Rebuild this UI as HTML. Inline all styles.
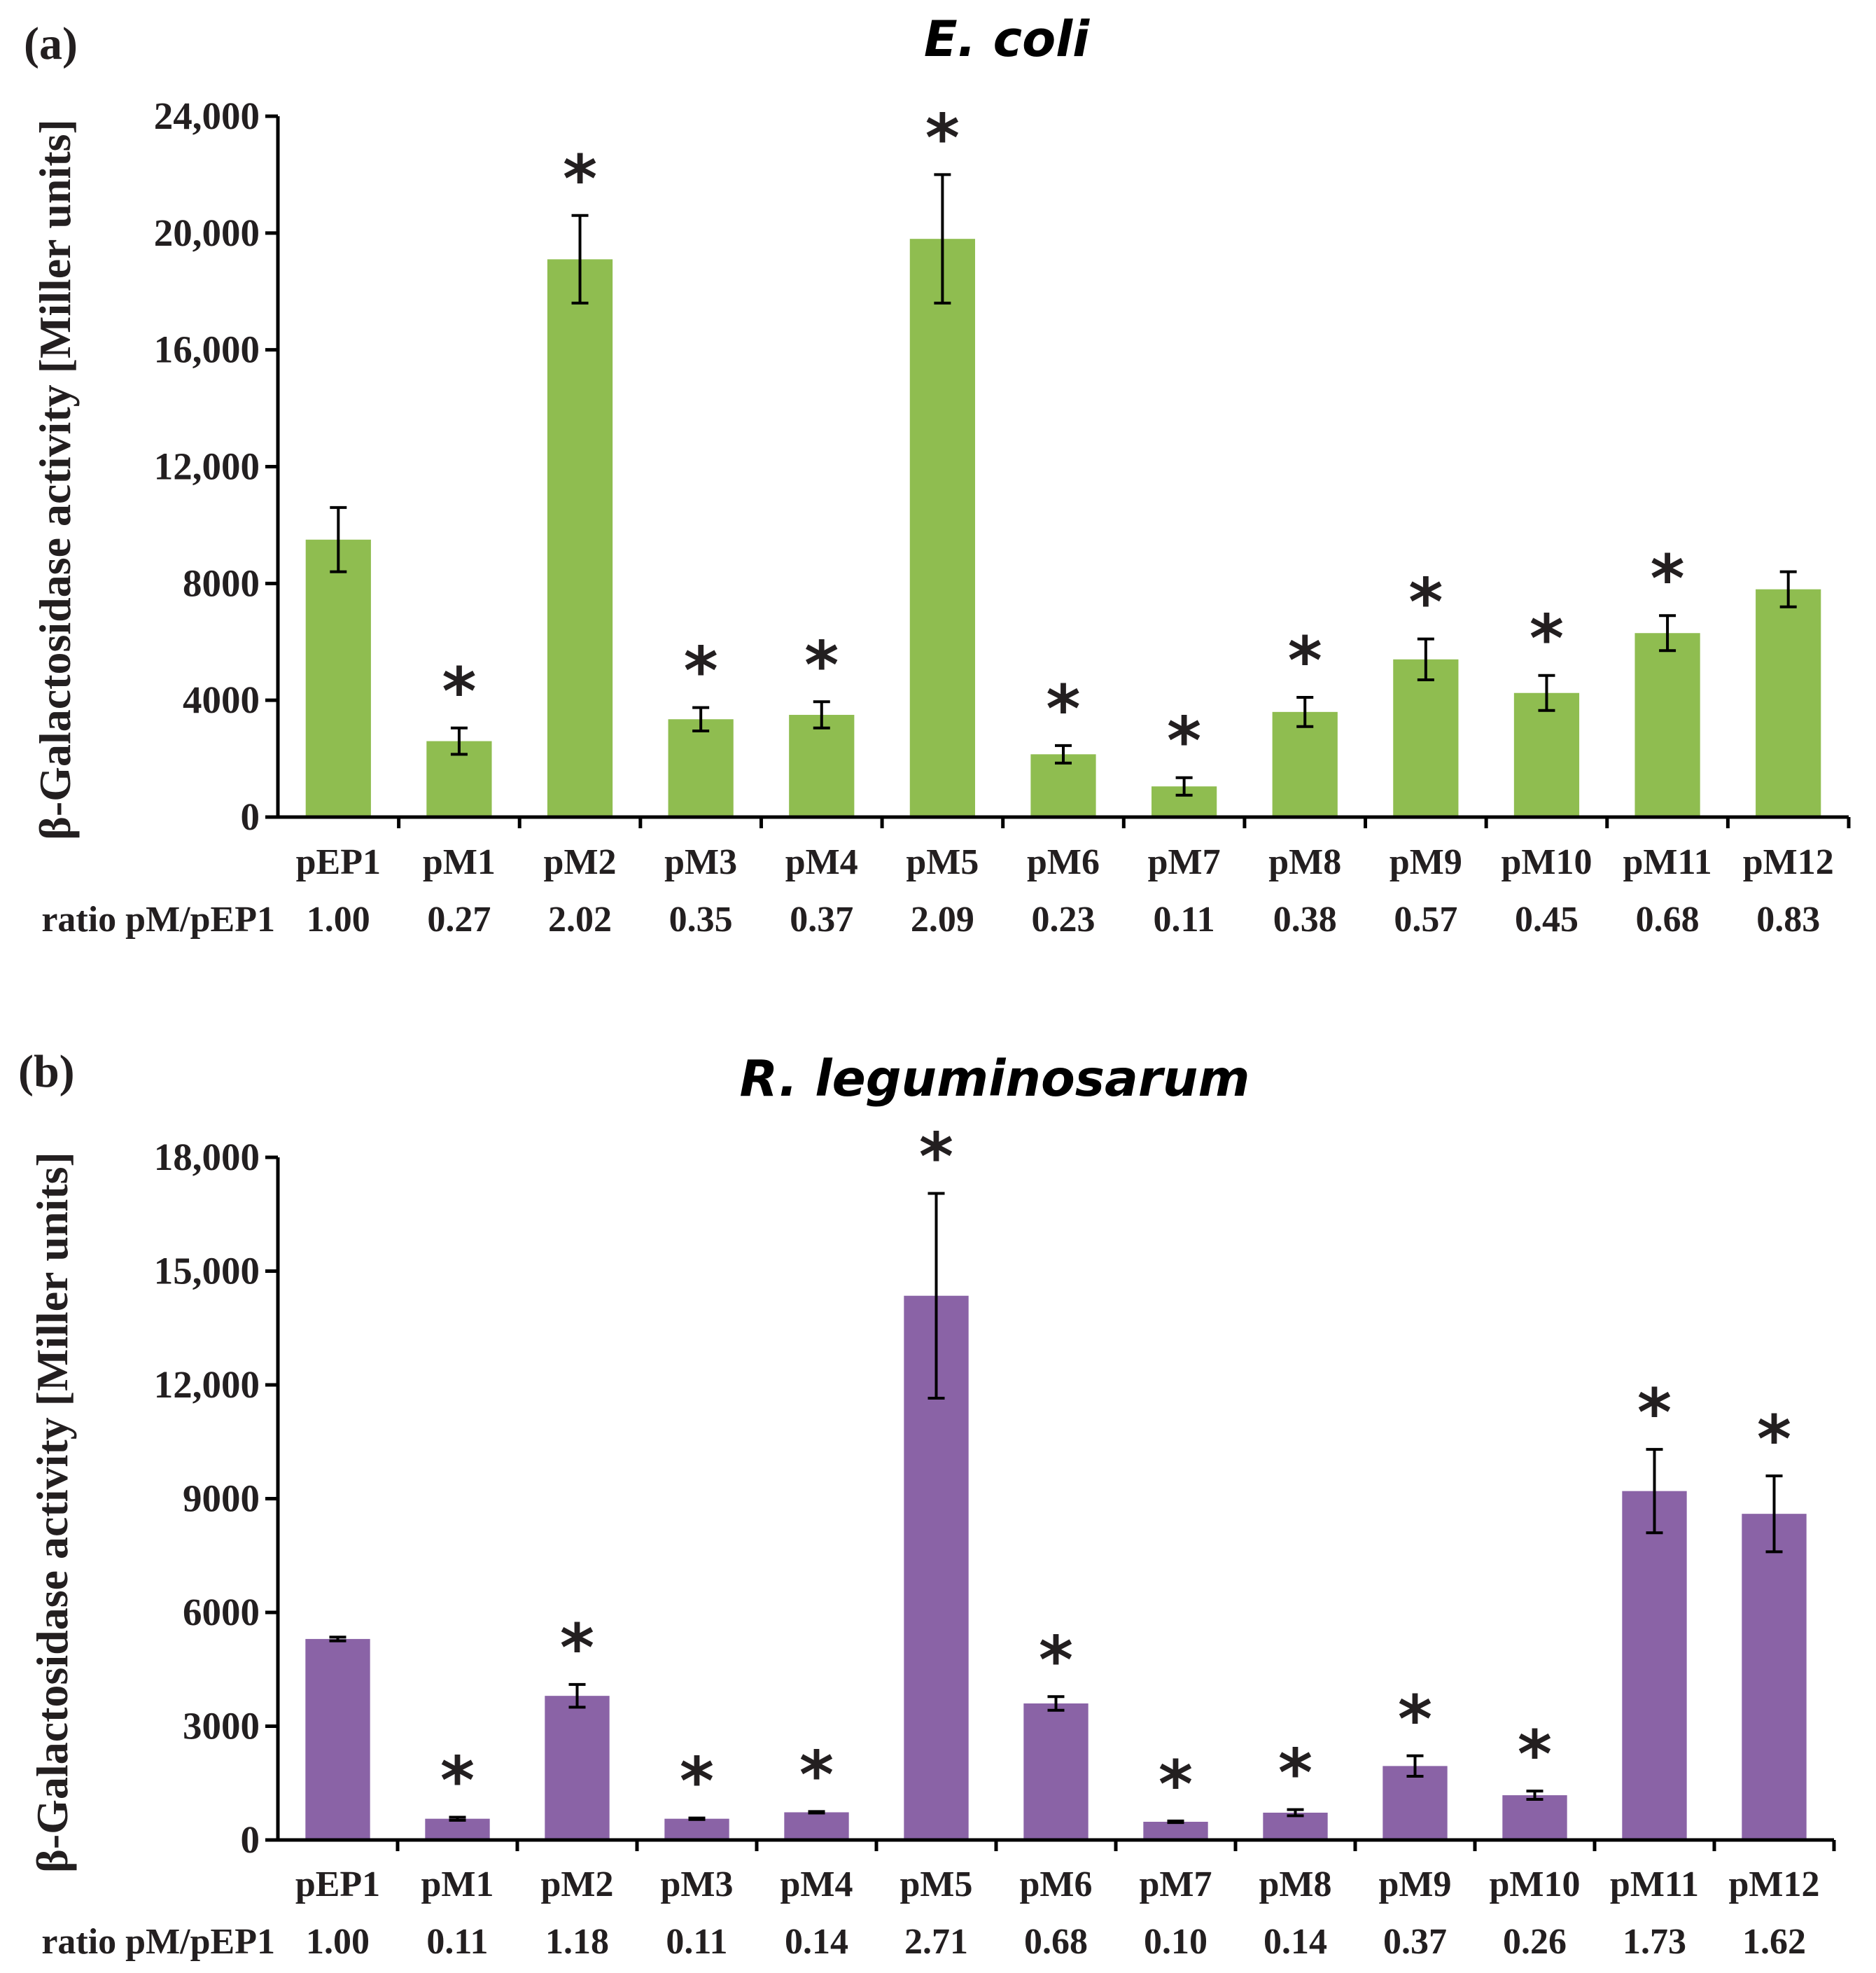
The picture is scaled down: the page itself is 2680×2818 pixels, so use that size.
<!DOCTYPE html>
<html><head><meta charset="utf-8"><style>
html,body{margin:0;padding:0;background:#fff}
svg{display:block}
.ser{font-family:"Liberation Serif",serif;font-weight:bold;fill:#231f20}
.ttl{font-family:"DejaVu Sans",sans-serif;font-weight:bold;font-style:italic;fill:#000}
</style></head><body>
<svg id="chart" width="2680" height="2818" viewBox="0 0 2680 2818" xmlns="http://www.w3.org/2000/svg">
<text class="ser" x="34" y="84" font-size="66">(a)</text>
<text class="ttl" x="1438" y="80" font-size="70" text-anchor="middle">E. coli</text>
<text class="ser" x="26" y="1552" font-size="66">(b)</text>
<text class="ttl" x="1421" y="1565" font-size="71" text-anchor="middle">R. leguminosarum</text>
<g id="pa"></g>
<g id="pb"></g>
</svg>
<script>
const categories = ["pEP1","pM1","pM2","pM3","pM4","pM5","pM6","pM7","pM8","pM9","pM10","pM11","pM12"];
const ecoliValues = [9500,2600,19100,3350,3500,19800,2150,1050,3600,5400,4250,6300,7800];
const ecoliErrors = [1100,450,1500,400,450,2200,300,300,500,700,600,600,600];
const ecoliSig = [0,1,1,1,1,1,1,1,1,1,1,1,0];
const ecoliRatios = ["1.00","0.27","2.02","0.35","0.37","2.09","0.23","0.11","0.38","0.57","0.45","0.68","0.83"];
const ecoliTicks = [0,4000,8000,12000,16000,20000,24000];
const ecoliTickLabels = ["0","4000","8000","12,000","16,000","20,000","24,000"];
const rhizValues = [5300,560,3800,560,730,14350,3600,480,720,1950,1180,9200,8600];
const rhizErrors = [50,40,300,20,20,2700,180,20,80,270,110,1100,1000];
const rhizSig = [0,1,1,1,1,1,1,1,1,1,1,1,1];
const rhizRatios = ["1.00","0.11","1.18","0.11","0.14","2.71","0.68","0.10","0.14","0.37","0.26","1.73","1.62"];
const rhizTicks = [0,3000,6000,9000,12000,15000,18000];
const rhizTickLabels = ["0","3000","6000","9000","12,000","15,000","18,000"];

const NS="http://www.w3.org/2000/svg";
function mk(parent,tag,attrs,txt){const e=document.createElementNS(NS,tag);for(const k in attrs)e.setAttribute(k,attrs[k]);if(txt!==undefined)e.textContent=txt;parent.appendChild(e);return e;}

function drawPanel(g,cfg){
  const {x0,x1,yTop,y0,max,vals,errs,sig,ratios,ticks,tickLabels,color,labY,ratioY,pfx}=cfg;
  const cw=(x1-x0)/categories.length;
  const xs=i=>x0+cw*(i+0.5);
  const ys=v=>y0-(v/max)*(y0-yTop);
  const bw=cw*0.54;
  vals.forEach((v,i)=>{
    const r=mk(g,'rect',{x:xs(i)-bw/2,y:ys(v),width:bw,height:y0-ys(v),fill:color});
    
    
    const top=ys(v+errs[i]),bot=ys(Math.max(0,v-errs[i]));
    const e=mk(g,'path',{d:`M${xs(i)} ${top}V${bot}M${xs(i)-12} ${top}H${xs(i)+12}M${xs(i)-12} ${bot}H${xs(i)+12}`,stroke:'#000','stroke-width':4,fill:'none'});
    
    
    if(sig[i]){
      const s=mk(g,'text',{x:xs(i),y:top-20,'font-size':94,'text-anchor':'middle','font-family':'"DejaVu Sans",sans-serif','font-weight':'bold',fill:'#231f20'},'*');
      
      
    }
    const l=mk(g,'text',{x:xs(i),y:labY,'font-size':52,'text-anchor':'middle',class:'ser'},categories[i]);
    
    
    const rt=mk(g,'text',{x:xs(i),y:ratioY,'font-size':52,'text-anchor':'middle',class:'ser'},ratios[i]);
    
    
  });
  const rl=mk(g,'text',{x:x0-4,y:ratioY,'font-size':52,'text-anchor':'end',class:'ser'},'ratio pM/pEP1');
  
  
  ticks.forEach((t,i)=>{
    mk(g,'line',{x1:x0-18,x2:x0,y1:ys(t),y2:ys(t),stroke:'#000','stroke-width':5});
    const tl=mk(g,'text',{x:x0-26,y:ys(t)+18,'font-size':55,'text-anchor':'end',class:'ser'},tickLabels[i]);
    
    
  });
  for(let i=1;i<=categories.length;i++) mk(g,'line',{x1:x0+cw*i,x2:x0+cw*i,y1:y0,y2:y0+16,stroke:'#000','stroke-width':5});
  const ax=mk(g,'path',{d:`M${x0} ${yTop}V${y0}H${x1}`,stroke:'#000','stroke-width':5,fill:'none'});
  
  
  const cy=cfg.titleY;
  const yt=mk(g,'text',{x:0,y:0,'font-size':64,'text-anchor':'middle',class:'ser',transform:`translate(${cfg.titleX},${cy}) rotate(-90)`},'β-Galactosidase activity [Miller units]');
  
  
}
drawPanel(document.getElementById('pa'),{x0:397,x1:2641,yTop:166,y0:1167,max:24000,vals:ecoliValues,errs:ecoliErrors,sig:ecoliSig,ratios:ecoliRatios,ticks:ecoliTicks,tickLabels:ecoliTickLabels,color:'#8fbd50',labY:1248,ratioY:1330,pfx:'ecoli',titleX:100,titleY:685});
drawPanel(document.getElementById('pb'),{x0:397,x1:2620,yTop:1653,y0:2628,max:18000,vals:rhizValues,errs:rhizErrors,sig:rhizSig,ratios:rhizRatios,ticks:rhizTicks,tickLabels:rhizTickLabels,color:'#8a63a6',labY:2708,ratioY:2790,pfx:'rhizobium',titleX:96,titleY:2160});
</script>
</body></html>
